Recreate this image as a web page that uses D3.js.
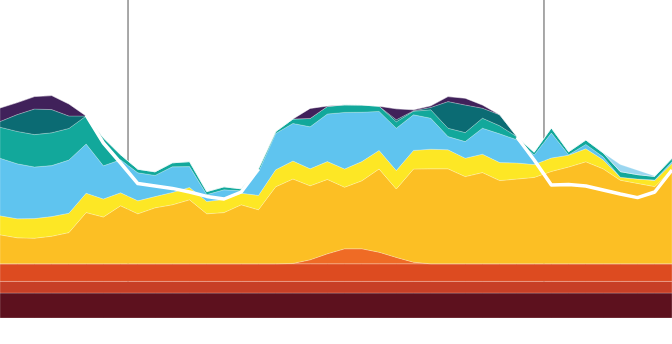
<!DOCTYPE html>
<html>
<head>
<meta charset="utf-8">
<script src="https://cdn.jsdelivr.net/npm/d3@7"></script>
<style>
body { margin: 0; background: #fff; }
svg { display: block; }
</style>
</head>
<body>
<svg id="chart" width="672" height="344"></svg>
<script>
// one value per time step, stacked bottom to top
var maroon    = [6.25,6.25,6.25,6.25,6.25,6.25,6.25,6.25,6.25,6.25,6.25,6.25,6.25,6.25,6.25,6.25,6.25,6.25,6.25,6.25,6.25,6.25,6.25,6.25,6.25,6.25,6.25,6.25,6.25,6.25,6.25,6.25,6.25,6.25,6.25,6.25,6.25,6.25,6.25,6.25];
var darkred   = [2.9,2.9,2.9,2.9,2.9,2.9,2.9,2.9,2.9,2.9,2.9,2.9,2.9,2.9,2.9,2.9,2.9,2.9,2.9,2.9,2.9,2.9,2.9,2.9,2.9,2.9,2.9,2.9,2.9,2.9,2.9,2.9,2.9,2.9,2.9,2.9,2.9,2.9,2.9,2.9];
var redorange = [4.4,4.4,4.4,4.4,4.4,4.4,4.4,4.4,4.4,4.4,4.4,4.4,4.4,4.4,4.4,4.4,4.4,4.4,4.4,4.4,4.4,4.4,4.4,4.4,4.4,4.4,4.4,4.4,4.4,4.4,4.4,4.4,4.4,4.4,4.4,4.4,4.4,4.4,4.4,4.4];
var orange    = [0,0,0,0,0,0,0,0,0,0,0,0,0,0,0,0,0,0.1,1,2.5,3.75,3.75,2.9,1.6,0.4,0,0,0,0,0,0,0,0,0,0,0,0,0,0,0];
var gold      = [7.25,6.5,6.4,6.9,7.8,12.8,11.7,14.5,12.5,14,14.75,16,12.5,12.8,14.75,13.5,19.25,21.1,18.5,18.6,15.4,17,20.8,17.1,23.3,23.75,23.75,21.8,22.8,20.8,21.2,21.6,23.1,24.2,25.5,23.75,20.9,20.1,19.3,23.5];
var yellow    = [4.75,4.75,4.9,4.9,4.85,4.85,4.5,3.25,3.25,2.8,3.1,3.1,3.1,3.3,2.9,3.6,4.25,4.5,4.25,4.45,4.55,4.8,4.65,4.6,4.65,4.9,4.75,4.6,4.6,4.5,4,3.2,3.35,2.95,3.25,2.25,0.75,1.1,1.55,1.6];
var lightblue = [14.4,13.75,12.9,12.75,13.3,12.3,8.3,8.25,7,5.3,6.4,5.2,1.7,2.4,0.6,5.9,9.1,9.4,10.5,11.9,14.15,12.35,9.75,10.6,8.9,7.75,3.3,4.15,6.5,7.2,5.8,2.4,6.25,0.1,1.1,0.75,0,0,0.1,0.4];
var teal      = [7.75,8.1,8.1,8.2,7.9,7,7,1.25,0.9,0.9,1,1.25,0.75,0.75,0.5,0.75,0.45,1.1,2.1,1.9,1.9,1.8,1.3,1.6,0.9,2.1,2.1,2.25,2.5,2,0.75,0.7,1.25,0.75,1.1,1,1.4,1.1,0.9,0.9];
var darkteal  = [1.4,4.2,6.4,5.8,3.1,0,0,0,0,0,0,0,0,0,0,0,0,0,0,0,0,0,0,0.5,0.1,0.6,6.65,6.9,2.5,2.75,0,0,0,0,0,0,0,0,0,0];
var purple    = [3.4,3,3.1,3.5,3,0,0,0,0,0,0,0,0,0,0,0,0,0,2.5,0.1,0,0,0,2.75,0.25,0.4,1.25,1.7,0.8,0,0,0,0,0,0,0,0,0,0,0];
var pale      = [0,0,0,0,0,0,0,0,0,0,0,0,0,0,0,0,0,0,0,0,0,0,0,0,0,0,0,0,0,0,0,0,0,0,0,0,1.75,1.1,0.1,0];
var demand    = [null,null,null,null,null,50.75,43.75,38.75,33.6,33,32.4,31.5,30.4,29.75,31.5,37.25,null,null,null,null,null,null,null,null,null,null,null,null,null,null,45.25,39.5,33.25,33.4,33,32,31,30.1,31.5,37];
var markers   = [7.43, 31.57];

var keys = ["maroon","darkred","redorange","orange","gold","yellow","lightblue","teal","darkteal","purple","pale"];
var colors = {
    maroon: "#5d111e", darkred: "#c73f26", redorange: "#dd4b20", orange: "#ef6b25",
    gold: "#fcbf24", yellow: "#fde725", lightblue: "#5fc4ef", teal: "#12a89b",
    darkteal: "#0b6b73", purple: "#40215a", pale: "#9ad6f0"
};
var series = {maroon: maroon, darkred: darkred, redorange: redorange, orange: orange, gold: gold,
    yellow: yellow, lightblue: lightblue, teal: teal, darkteal: darkteal, purple: purple, pale: pale};

var table = demand.map(function(d, i){
    var row = {step: i};
    keys.forEach(function(k){ row[k] = series[k][i]; });
    return row;
});

var width = 672, bottom = 318;
var svg = d3.select("#chart");

var x = d3.scaleLinear().domain([0, table.length - 1]).range([0, width]);
var y = d3.scaleLinear().domain([0, 79.5]).range([bottom, 0]);

var stacked = d3.stack().keys(keys)(table);

svg.append("g").selectAll("line")
    .data(markers)
    .enter()
    .append("line")
    .attr("x1", d => x(d)).attr("x2", d => x(d))
    .attr("y1", 0).attr("y2", bottom)
    .attr("stroke", "#8c8c8c")
    .attr("stroke-width", 1.5);

var area = d3.area()
    .x(d => x(d.data.step))
    .y0(d => y(d[0]))
    .y1(d => y(d[1]));

svg.append("g").selectAll("path")
    .data(stacked)
    .enter()
    .append("path")
    .attr("d", area)
    .attr("fill", d => colors[d.key])
    .attr("stroke", "rgba(255,255,255,0.45)")
    .attr("stroke-width", 0.5);

// outline along the top of the stack
var top = stacked[stacked.length - 1];
svg.append("path")
    .datum(top)
    .attr("d", d3.line().x(d => x(d.data.step)).y(d => y(d[1])))
    .attr("fill", "none")
    .attr("stroke", "#6f6f80")
    .attr("stroke-opacity", 0.6)
    .attr("stroke-width", 0.8);

svg.append("path")
    .datum(demand)
    .attr("d", d3.line().defined(d => d !== null).x((d, i) => x(i)).y(d => y(d)))
    .attr("fill", "none")
    .attr("stroke", "#fff")
    .attr("stroke-width", 3.5)
    .attr("stroke-linejoin", "round");
</script>
</body>
</html>
